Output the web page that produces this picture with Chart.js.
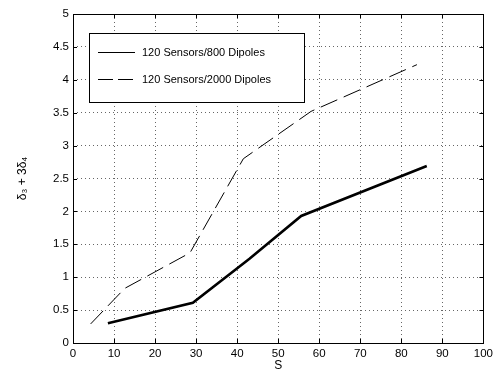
<!DOCTYPE html>
<html>
<head>
<meta charset="utf-8">
<script src="https://cdn.jsdelivr.net/npm/chart.js@4.4.1/dist/chart.umd.min.js"></script>
<style>
  html, body { margin: 0; padding: 0; background: #fff; }
  #wrap { width: 497px; height: 373px; }
</style>
</head>
<body>
<div id="wrap"><canvas id="myChart"></canvas></div>
<script>
// values
const sensors800S = [8.5, 29.2, 43, 55.6, 86.2];
const sensors800V = [0.30, 0.61, 1.28, 1.93, 2.69];
const sensors2000S = [4.3, 12.6, 28.5, 41.5, 58, 83.8];
const sensors2000V = [0.29, 0.83, 1.37, 2.80, 3.52, 4.23];
const seriesNames = ['120 Sensors/800 Dipoles', '120 Sensors/2000 Dipoles'];
const xTicks = [0, 10, 20, 30, 40, 50, 60, 70, 80, 90, 100];
const yTicks = [0, 0.5, 1, 1.5, 2, 2.5, 3, 3.5, 4, 4.5, 5];

const toPoints = (xs, ys) => xs.map((x, i) => ({ x: x, y: ys[i] }));
const FONT = 'Liberation Sans, Arial, sans-serif';

// frame, inward ticks and the legend box (matlab style)
const matlabBox = {
  id: 'matlabBox',
  afterDraw(chart) {
    const { ctx, chartArea: a, scales } = chart;
    ctx.save();
    ctx.strokeStyle = '#000';
    ctx.lineWidth = 1;
    ctx.setLineDash([]);
    ctx.strokeRect(Math.round(a.left) + 0.5, Math.round(a.top) + 0.5,
      Math.round(a.right - a.left), Math.round(a.bottom - a.top));
    const tl = 4;
    ctx.beginPath();
    xTicks.forEach(v => {
      const px = Math.round(scales.x.getPixelForValue(v)) + 0.5;
      ctx.moveTo(px, a.bottom); ctx.lineTo(px, a.bottom - tl);
      ctx.moveTo(px, a.top); ctx.lineTo(px, a.top + tl);
    });
    yTicks.forEach(v => {
      const py = Math.round(scales.y.getPixelForValue(v)) + 0.5;
      ctx.moveTo(a.left, py); ctx.lineTo(a.left + tl, py);
      ctx.moveTo(a.right, py); ctx.lineTo(a.right - tl, py);
    });
    ctx.stroke();

    // legend
    const lx = 89.5, ly = 33.5, lw = 215, lh = 69;
    ctx.fillStyle = '#fff';
    ctx.fillRect(lx, ly, lw, lh);
    ctx.strokeRect(lx, ly, lw, lh);
    ctx.font = '11px ' + FONT;
    ctx.fillStyle = '#000';
    ctx.textBaseline = 'middle';
    const rows = [{ y: 52.5, dash: [] }, { y: 79.5, dash: [15, 5] }];
    rows.forEach((r, i) => {
      ctx.setLineDash(r.dash);
      ctx.beginPath();
      ctx.moveTo(98, r.y); ctx.lineTo(135, r.y);
      ctx.stroke();
      ctx.fillText(chart.data.datasets[i].label, 142, r.y);
    });
    ctx.restore();
  }
};

const data = {
  datasets: [{
    label: seriesNames[0],
    data: toPoints(sensors800S, sensors800V),
    borderColor: '#000',
    borderWidth: 2.6,
    pointRadius: 0,
    showLine: true,
    fill: false
  }, {
    label: seriesNames[1],
    data: toPoints(sensors2000S, sensors2000V),
    borderColor: '#000',
    borderWidth: 1,
    borderDash: [18, 7],
    pointRadius: 0,
    showLine: true,
    fill: false
  }]
};

const config = {
  type: 'scatter',
  data: data,
  options: {
    responsive: true,
    maintainAspectRatio: false,
    animation: false,
    layout: { padding: { top: 14, right: 10, left: 0, bottom: 0 } },
    plugins: {
      legend: { display: false },
      tooltip: { enabled: false }
    },
    scales: {
      x: {
        type: 'linear',
        min: 0,
        max: 100,
        afterFit(scale) { scale.height = 30; },
        afterBuildTicks(scale) { scale.ticks = xTicks.map(v => ({ value: v })); },
        grid: { color: '#666', lineWidth: 1, drawTicks: false },
        border: { display: false, dash: [1, 3] },
        ticks: { color: '#000', padding: 4, font: { family: FONT, size: 11.5 }, maxRotation: 0,
          callback: v => String(v) },
        title: { display: true, text: 'S', color: '#000', padding: { top: 0, bottom: 0 }, font: { family: FONT, size: 12 } }
      },
      y: {
        type: 'linear',
        min: 0,
        max: 5,
        afterFit(scale) { scale.width = 73; },
        afterBuildTicks(scale) { scale.ticks = yTicks.map(v => ({ value: v })); },
        grid: { color: '#666', lineWidth: 1, drawTicks: false },
        border: { display: false, dash: [1, 3] },
        ticks: { color: '#000', padding: 4, font: { family: FONT, size: 11.5 },
          callback: v => String(v) },
        title: { display: true, text: 'δ₃ + 3δ₄', color: '#000', padding: { top: 15, bottom: 0 }, font: { family: FONT, size: 12 } }
      }
    }
  },
  plugins: [matlabBox]
};

const ctx = document.getElementById('myChart').getContext('2d');
const myChart = new Chart(ctx, config);
</script>
</body>
</html>
